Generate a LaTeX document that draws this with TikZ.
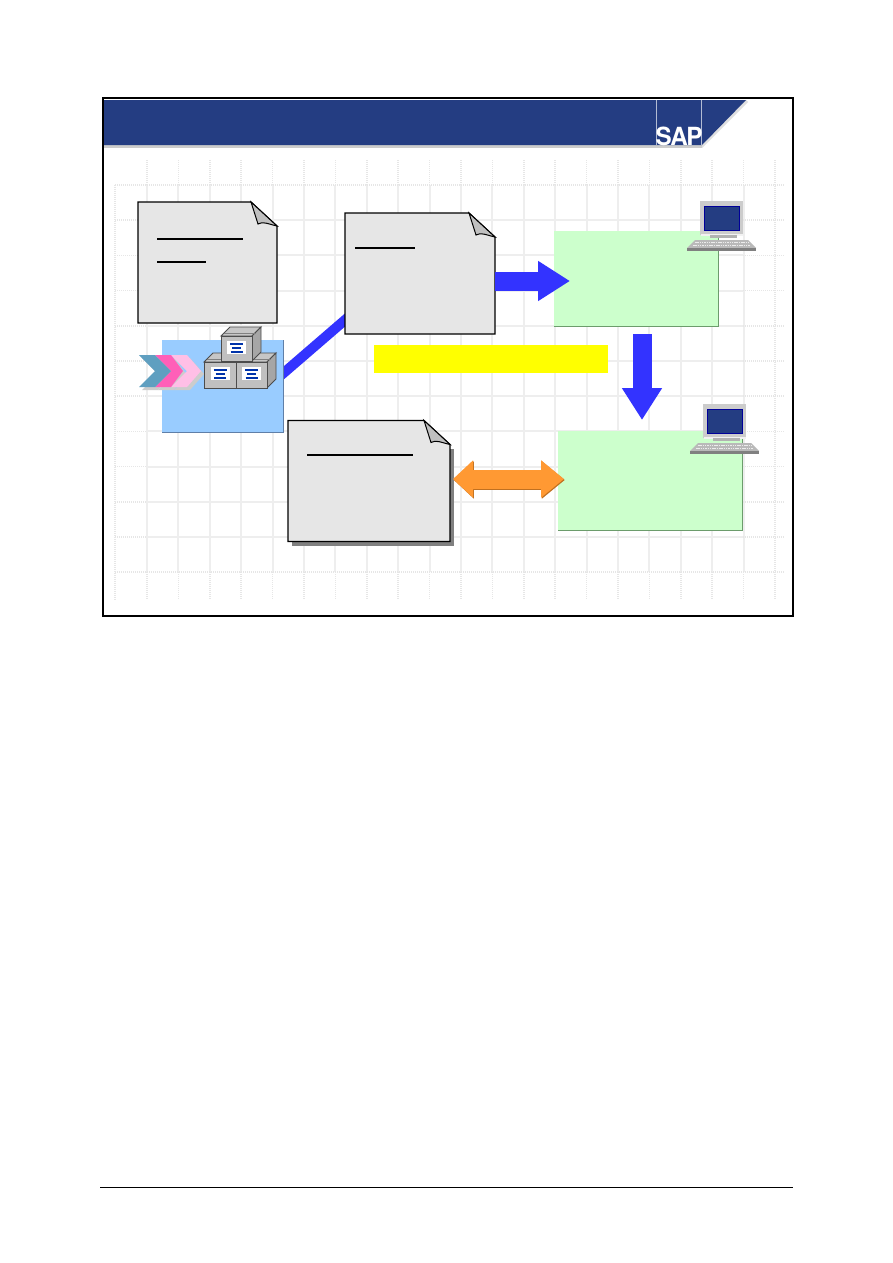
\documentclass[tikz,border=0pt]{standalone}
\usepackage{fontspec}
\newfontfamily\logofont{TeX Gyre Heros}
\usetikzlibrary{arrows.meta,positioning,calc,backgrounds}
\definecolor{bandblue}{HTML}{243D82}
\definecolor{barblue}{HTML}{3333FF}
\definecolor{pagegray}{HTML}{E6E6E6}
\definecolor{foldgray}{HTML}{C0C0C0}
\definecolor{gridgray}{HTML}{EEEEEE}
\definecolor{griddot}{HTML}{E6E6E6}
\definecolor{mintgreen}{HTML}{CCFFCC}
\definecolor{mintrim}{HTML}{6C9C6C}
\definecolor{skyblue}{HTML}{99CCFF}
\definecolor{skyrim}{HTML}{5F7FA8}
\definecolor{flaporange}{HTML}{FF9933}
\definecolor{flaprim}{HTML}{C07020}
\definecolor{hintyellow}{HTML}{FFFF00}
\definecolor{labelblue}{HTML}{0033AA}
\definecolor{chevblue}{HTML}{5F9FC0}
\definecolor{chevpink}{HTML}{FF5FB8}
\definecolor{chevpale}{HTML}{FFBFE6}

% sheet with a folded corner, drawn round an empty node
\newcommand{\foldsheet}[1]{
	\draw[sheetline] (#1.north west) -- ([xshift=-26pt]#1.north east) -- ([yshift=-24pt]#1.north east) -- (#1.south east) -- (#1.south west) -- cycle;
	\draw[foldline] ([xshift=-26pt]#1.north east) -- ++(7,22) .. controls +(5,-3) and +(-9,-2) .. ([yshift=-24pt]#1.north east) -- cycle;
}

% one carton, front face at (#1,#2)
\newcommand{\carton}[4]{
	\begin{scope}[shift={(#1,#2)}]
		\draw[cartonline,fill=gray!45] (0,0) -- (9,-9) -- (#3+9,-9) -- (#3,0) -- cycle;
		\draw[cartonline,fill=gray!70] (#3,0) -- (#3+9,-9) -- (#3+9,#4-9) -- (#3,#4) -- cycle;
		\draw[cartonline,fill=foldgray] (0,0) rectangle (#3,#4);
		\draw[black!50] (3,-3) -- (#3+4,-3);
		\fill[white] (#3/2-9.5,5) rectangle (#3/2+9.5,18);
		\foreach \rowy/\rowx in {7.5/6.5,11.5/4.5,15.5/6}
			\draw[line width=2pt,labelblue] (#3/2-\rowx,\rowy) -- (#3/2+\rowx,\rowy);
	\end{scope}
}

% monitor on its keyboard, (#1,#2) is the top left of the housing
\newcommand{\terminal}[2]{
	\begin{scope}[shift={(#1,#2)}]
		\fill[gray!40] (0,0) rectangle (43,34);
		\fill[white!90!gray] (1,33) rectangle (43,35);
		\draw[fill=bandblue,draw=blue!60!black,line width=0.7pt] (4,5) rectangle (39,29);
		\fill[gray!60] (10,34) rectangle (37,37);
		\fill[gray!55] (-5,39) -- (48,39) -- (56,47) -- (-13,47) -- cycle;
		\fill[gray] (-13,47) rectangle (56,50);
		\draw[white!85!gray,dash pattern=on 1.5pt off 0.8pt] (-5,41.5) -- (48,41.5);
		\draw[white!85!gray,dash pattern=on 1.5pt off 0.8pt] (-7,44.5) -- (50,44.5);
	\end{scope}
}

\begin{document}
\begin{tikzpicture}[
	x=1pt,y=-1pt,
	pagenode/.style={inner sep=0pt, outer sep=0pt},
	sheetline/.style={draw=black, fill=pagegray, line width=1.2pt, line join=miter},
	foldline/.style={draw=black, fill=foldgray, line width=1pt},
	underscore/.style={line width=2pt, black},
	cartonline/.style={draw=black!70, line width=0.9pt},
	gridline/.style={gridgray, line width=2pt},
	griddots/.style={griddot, line width=1.5pt, dash pattern=on 1pt off 1pt},
	pane/.style={inner sep=0pt, outer sep=0pt},
	blockarrow/.style={barblue, line width=19pt, -{Triangle[length=32pt,width=38pt]}},
	swaparrow/.style={line width=19pt, {Triangle[length=20pt,width=36pt]}-{Triangle[length=23pt,width=36pt]}}
	]
	
	\useasboundingbox (0,0) rectangle (893,1263);
	
	% panes and sheets
	\node[pane, fill=skyblue, minimum width=121pt, minimum height=92pt] (stock) at (222.5,386) {};
	\node[pane, fill=mintgreen, minimum width=164pt, minimum height=95pt] (clienta) at (636,278.5) {};
	\node[pane, fill=mintgreen, minimum width=184pt, minimum height=99pt] (clientb) at (650,480.5) {};
	\node[pane, fill=hintyellow, minimum width=234pt, minimum height=28pt] (hint) at (491,359) {};
	\node[pagenode, minimum width=139pt, minimum height=121pt] (sheeta) at (207.5,262.5) {};
	\node[pagenode, minimum width=150pt, minimum height=121pt] (sheetb) at (420,273.5) {};
	\node[pagenode, minimum width=162pt, minimum height=121pt] (sheetc) at (369,481) {};
	
	\foreach \pane/\rim in {stock/skyrim, clienta/mintrim, clientb/mintrim}
		\draw[\rim, line width=0.8pt] (\pane.north east) -- (\pane.south east) -- (\pane.south west);
	
	\fill[black!50] ([xshift=4pt,yshift=-4pt]sheetc.south west) rectangle ([xshift=4pt,yshift=-28pt]sheetc.north east);
	\foldsheet{sheeta}
	\foldsheet{sheetb}
	\foldsheet{sheetc}
	
	\draw[underscore] (157,239) -- (243,239);
	\draw[underscore] (157,262) -- (206,262);
	\draw[underscore] (355,248) -- (415,248);
	\draw[underscore] (307,455) -- (413,455);
	
	% connectors
	\coordinate (stockout) at (283,373.5);
	\coordinate (sheetin) at (345,320);
	\draw[blockarrow] ([yshift=-7.5pt]sheetb.east) -- ([xshift=16pt,yshift=-2.5pt]clienta.west);
	\draw[blockarrow] ([xshift=6pt,yshift=-8pt]clienta.south) -- ([xshift=-8pt,yshift=11pt]clientb.north);
	\draw[swaparrow, flaprim, shift={(0.8,1)}] (453,479) -- (564,479);
	\draw[swaparrow, flaporange] (453,479) -- (564,479);
	
	% chevrons, shadows first
	\foreach \shiftx/\run in {32/30,16/28,0/32}
		\fill[gray!40,shift={(\shiftx+3,3)}] (139,355) -- ++(16,0) -- ++(\run-16,16) -- ++(16-\run,16) -- ++(-16,0) -- ++(16,-16) -- cycle;
	\foreach \shiftx/\tint/\run in {32/chevpale/30,16/chevpink/28,0/chevblue/32}
		\fill[\tint,shift={(\shiftx,0)}] (139,355) -- ++(16,0) -- ++(\run-16,16) -- ++(16-\run,16) -- ++(-16,0) -- ++(16,-16) -- cycle;
	
	% cartons
	\carton{204}{362}{32}{26}
	\carton{236}{362}{31}{26}
	\carton{221}{336}{31}{25}
	
	% terminals
	\terminal{700}{201}
	\terminal{703}{404}
	
	% title band
	\fill[gray!40] (104,145) rectangle (702,148);
	\fill[gray!25] (702,148) -- (748,102) -- (746,100) -- (702,145) -- cycle;
	\fill[bandblue] (104,100) -- (746,100) -- (702,145) -- (104,145) -- cycle;
	\draw[white!65!bandblue, line width=0.8pt] (656,100) -- (656,145);
	\draw[white!65!bandblue, line width=0.8pt] (701,100) -- (701,145);
	\node[pagenode, anchor=base, text=white] (logo) at (679,145.5) {\logofont\fontsize{25}{25}\selectfont\bfseries\scalebox{.97}[1]{S\kern-1.5pt A\kern-1.5pt P}};
	
	\draw[line width=2pt] (103,98) rectangle (793,616);
	\draw[line width=0.8pt] (100,1187) -- (793,1187);
	
	\begin{scope}[on background layer]
		\fill[white] (0,0) rectangle (893,1263);
		\foreach \k in {0,...,19}{
			\draw[griddots] (147+31.4*\k,160) -- (147+31.4*\k,185);
			\draw[griddots] (147+31.4*\k,572) -- (147+31.4*\k,600);
			\draw[gridline] (147+31.4*\k,185) -- (147+31.4*\k,572);
		}
		\foreach \k in {1,...,10}{
			\draw[griddots] (115,185+35.2*\k) -- (147,185+35.2*\k);
			\draw[griddots] (743,185+35.2*\k) -- (785,185+35.2*\k);
			\draw[gridline] (147,185+35.2*\k) -- (743,185+35.2*\k);
		}
		% dotted outer ring of the grid
		\draw[griddots] (115,185) -- (785,185);
		\draw[griddots] (115,572) -- (785,572);
		\draw[griddots] (115,185) -- (115,600);
		\draw[griddots] (775,160) -- (775,600);
		% bar behind the stock pane and the middle sheet
		\draw[barblue, line width=10pt, shorten <=-8pt, shorten >=-8pt] (stockout) -- (sheetin);
	\end{scope}
	
\end{tikzpicture}
\end{document}
